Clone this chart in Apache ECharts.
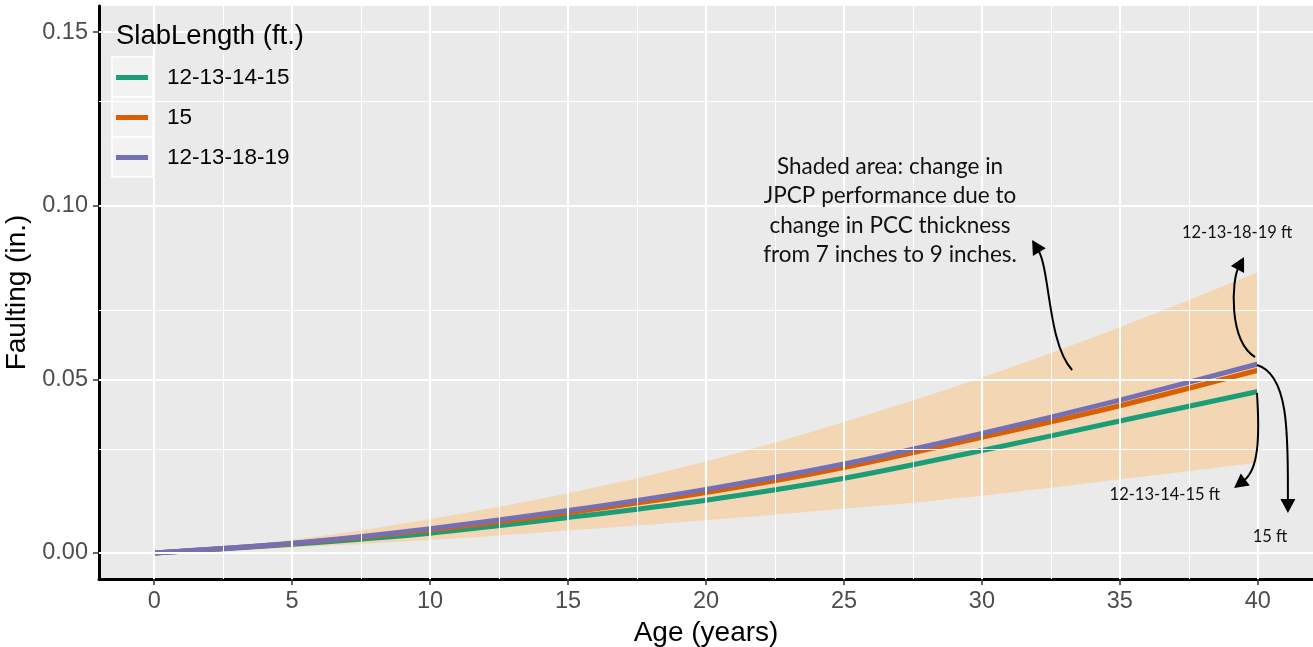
<!DOCTYPE html>
<html>
<head>
<meta charset="utf-8">
<script src="https://cdn.jsdelivr.net/npm/echarts@6/dist/echarts.min.js"></script>
<style>
  html, body { margin: 0; padding: 0; background: #ffffff; }
  #chart { width: 1313px; height: 647px; }
</style>
</head>
<body>
<div id="chart"></div>
<script>
// ---- Data ----
const years = [0, 5, 10, 15, 20, 25, 30, 35, 40];
const seriesNames = ['12-13-14-15', '15', '12-13-18-19'];
const faultGreen  = [0, 0.0025, 0.0057, 0.0102, 0.0152, 0.0215, 0.0295, 0.0380, 0.0465];
const faultOrange = [0, 0.0027, 0.0066, 0.0116, 0.0174, 0.0246, 0.0333, 0.0424, 0.0526];
const faultPurple = [0, 0.0028, 0.0070, 0.0122, 0.0183, 0.0256, 0.0344, 0.0440, 0.0544];
const bandLower   = [0, 0.0016, 0.0037, 0.0065, 0.0094, 0.0127, 0.0165, 0.0212, 0.0260];
const bandUpper   = [0, 0.0038, 0.0098, 0.0172, 0.0263, 0.0377, 0.0505, 0.0650, 0.0808];

const xTicks = [0, 5, 10, 15, 20, 25, 30, 35, 40];
const xMinor = [2.5, 7.5, 12.5, 17.5, 22.5, 27.5, 32.5, 37.5];
const yTicks = [0, 0.05, 0.10, 0.15];
const yMinor = [0.025, 0.075, 0.125];

const colors = ['#1B9E77', '#D95F02', '#7570B3'];

// annotation texts and anchors (data coordinates)
const noteLines = ['Shaded area: change in', 'JPCP performance due to', 'change in PCC thickness', 'from 7 inches to 9 inches.'];
const noteX = 26.67;
const noteY = [0.1112, 0.1029, 0.0942, 0.0859];
const smallLabels = [
  { text: '12-13-18-19 ft', x: 39.25, y: 0.0921 },
  { text: '15 ft', x: 40.44, y: 0.0046 },
  { text: '12-13-14-15 ft', x: 36.63, y: 0.0167 }
];
// arrows: start, control1, control2, tip
const arrows = [
  [[33.27, 0.0527], [32.40, 0.0599], [32.47, 0.0815], [31.82, 0.0901]],
  [[39.90, 0.0564], [38.92, 0.0613], [39.06, 0.0786], [39.50, 0.0852]],
  [[39.97, 0.0541], [41.17, 0.0513], [41.09, 0.0325], [41.09, 0.0115]],
  [[39.97, 0.0461], [40.08, 0.0325], [40.01, 0.0239], [39.14, 0.0187]]
];

// ---- Build ----
const zip = (xs, ys) => xs.map((x, i) => [x, ys[i]]);

const gridLines = [];
xTicks.forEach(v => gridLines.push({ xAxis: v, lineStyle: { width: 2 } }));
xMinor.forEach(v => gridLines.push({ xAxis: v, lineStyle: { width: 1 } }));
yTicks.forEach(v => gridLines.push({ yAxis: v, lineStyle: { width: 2 } }));
yMinor.forEach(v => gridLines.push({ yAxis: v, lineStyle: { width: 1 } }));

// Catmull-Rom through pixel points -> SVG cubic segments
function splineSegs(pts) {
  let d = '';
  for (let i = 0; i < pts.length - 1; i++) {
    const p0 = pts[Math.max(i - 1, 0)], p1 = pts[i], p2 = pts[i + 1], p3 = pts[Math.min(i + 2, pts.length - 1)];
    const c1 = [p1[0] + (p2[0] - p0[0]) / 6, p1[1] + (p2[1] - p0[1]) / 6];
    const c2 = [p2[0] - (p3[0] - p1[0]) / 6, p2[1] - (p3[1] - p1[1]) / 6];
    d += ` C ${c1[0]} ${c1[1]} ${c2[0]} ${c2[1]} ${p2[0]} ${p2[1]}`;
  }
  return d;
}

const chart = echarts.init(document.getElementById('chart'), null, { renderer: 'canvas' });
const axisFont = 'Liberation Sans';

const option = {
  animation: false,
  backgroundColor: '#ffffff',
  grid: {
    left: 99, right: 0, top: 6, bottom: 68,
    containLabel: false, outerBoundsMode: 'none',
    show: true, backgroundColor: '#EAEAEB', borderWidth: 0
  },
  title: {
    text: 'SlabLength (ft.)',
    left: 111, top: 17,
    textStyle: { fontFamily: axisFont, fontSize: 27.5, fontWeight: 'normal', color: '#000' }
  },
  legend: {
    data: seriesNames,
    orient: 'vertical',
    left: 116, top: 66,
    padding: 0,
    itemWidth: 32, itemHeight: 5, itemGap: 17,
    icon: 'rect',
    textStyle: { fontFamily: axisFont, fontSize: 22.5, color: '#000', lineHeight: 23, padding: [0, 0, 0, 14] },
    z: 5
  },
  xAxis: {
    type: 'value', min: -2, max: 42,
    name: 'Age (years)', nameLocation: 'middle', nameGap: 37,
    nameTextStyle: { fontFamily: axisFont, fontSize: 28, color: '#000' },
    axisLine: { show: true, onZero: false, lineStyle: { color: '#000', width: 3 } },
    axisTick: { show: true, length: 6, customValues: xTicks, lineStyle: { color: '#333', width: 1.5 } },
    axisLabel: { customValues: xTicks, margin: 11, fontFamily: axisFont, fontSize: 23.5, color: '#4D4D4D' },
    splitLine: { show: false }
  },
  yAxis: {
    type: 'value', min: -0.0075, max: 0.1575,
    name: 'Faulting (in.)', nameLocation: 'middle', nameGap: 61,
    nameTextStyle: { fontFamily: axisFont, fontSize: 28, color: '#000' },
    axisLine: { show: true, onZero: false, lineStyle: { color: '#000', width: 3 } },
    axisTick: { show: true, length: 6, customValues: yTicks, lineStyle: { color: '#333', width: 1.5 } },
    axisLabel: { customValues: yTicks, margin: 11, fontFamily: axisFont, fontSize: 23.5, color: '#4D4D4D',
      formatter: v => v.toFixed(2) },
    splitLine: { show: false }
  },
  series: [
    {
      name: 'grid', type: 'line', data: [[0, 0]], symbol: 'none', z: 1,
      lineStyle: { opacity: 0 }, silent: true,
      markLine: { silent: true, symbol: 'none', label: { show: false }, animation: false,
        lineStyle: { color: '#ffffff', type: 'solid' }, data: gridLines }
    },
    {
      name: 'band', type: 'custom', z: 2, silent: true,
      data: [0],
      renderItem: function (params, api) {
        const up = years.map((x, i) => api.coord([x, bandUpper[i]]));
        const lo = years.map((x, i) => api.coord([x, bandLower[i]])).reverse();
        const d = `M ${up[0][0]} ${up[0][1]}` + splineSegs(up) +
                  ` L ${lo[0][0]} ${lo[0][1]}` + splineSegs(lo) + ' Z';
        return { type: 'path', shape: { pathData: d },
          style: { fill: 'rgba(255,188,108,0.42)', stroke: null } };
      }
    },
    {
      name: seriesNames[0], type: 'line', data: zip(years, faultGreen), symbol: 'none', smooth: 0.3,
      color: colors[0], lineStyle: { color: colors[0], width: 5 }, z: 3
    },
    {
      name: seriesNames[1], type: 'line', data: zip(years, faultOrange), symbol: 'none', smooth: 0.3,
      color: colors[1], lineStyle: { color: colors[1], width: 5 }, z: 3
    },
    {
      name: seriesNames[2], type: 'line', data: zip(years, faultPurple), symbol: 'none', smooth: 0.3,
      color: colors[2], lineStyle: { color: colors[2], width: 5 }, z: 3
    }
  ]
};
chart.setOption(option);

// ---- Annotations and legend key boxes ----
const px = p => chart.convertToPixel({ gridIndex: 0 }, p);
const graphics = [];

for (let i = 0; i < 3; i++) {
  graphics.push({ type: 'rect', z: 3, silent: true,
    shape: { x: 112, y: 57 + i * 40, width: 41, height: 40 },
    style: { fill: '#F2F2F2', stroke: '#ffffff', lineWidth: 1.5 } });
}

noteLines.forEach((t, i) => {
  const p = px([noteX, noteY[i]]);
  graphics.push({ type: 'text', z: 10, silent: true, x: p[0], y: p[1],
    style: { text: t, font: '22.5px Lato', fill: '#111', align: 'center', verticalAlign: 'middle' } });
});
smallLabels.forEach(l => {
  const p = px([l.x, l.y]);
  graphics.push({ type: 'text', z: 10, silent: true, x: p[0], y: p[1],
    style: { text: l.text, font: '16.5px Lato', fill: '#111', align: 'center', verticalAlign: 'middle' } });
});
arrows.forEach(a => {
  const [s, c1, c2, t] = a.map(px);
  const dx = t[0] - c2[0], dy = t[1] - c2[1];
  const len = Math.hypot(dx, dy);
  const ux = dx / len, uy = dy / len;
  const hl = 14, hw = 7.5;
  const bx = t[0] - ux * hl, by = t[1] - uy * hl;
  graphics.push({ type: 'bezierCurve', z: 10, silent: true,
    shape: { x1: s[0], y1: s[1], cpx1: c1[0], cpy1: c1[1], cpx2: c2[0], cpy2: c2[1], x2: bx + ux * 2, y2: by + uy * 2 },
    style: { stroke: '#000', lineWidth: 2, fill: null } });
  graphics.push({ type: 'polygon', z: 10, silent: true,
    shape: { points: [[t[0], t[1]], [bx - uy * hw, by + ux * hw], [bx + uy * hw, by - ux * hw]] },
    style: { fill: '#000' } });
});
chart.setOption({ graphic: graphics });
</script>
</body>
</html>
